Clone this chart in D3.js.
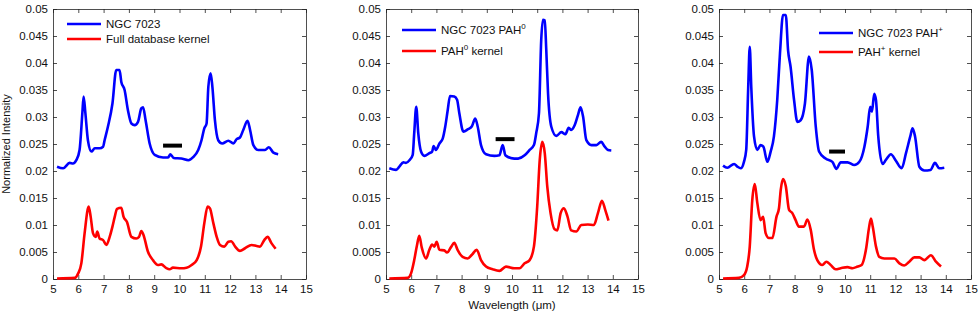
<!DOCTYPE html>
<html>
<head>
<meta charset="utf-8">
<script src="https://cdn.jsdelivr.net/npm/d3@7"></script>
<style>
  body { margin: 0; background: #fff; }
  text { font-family: "Liberation Sans", Arial, Helvetica, sans-serif; }
</style>
</head>
<body>
<div id="chart"></div>
<script>
// wavelength ticks and intensity ticks
var xTicks = [5, 6, 7, 8, 9, 10, 11, 12, 13, 14, 15];
var yTicks = [0, 0.005, 0.01, 0.015, 0.02, 0.025, 0.03, 0.035, 0.04, 0.045, 0.05];

// [wavelength (um), normalized intensity]
var ngcFull = [[5.16,0.0208],[5.4,0.0205],[5.66,0.0215],[5.79,0.0214],[5.92,0.0220],[6.05,0.0239],[6.16,0.0307],[6.21,0.0338],[6.28,0.0307],[6.38,0.0257],[6.52,0.0236],[6.65,0.0242],[6.84,0.0242],[6.98,0.0245],[7.04,0.0257],[7.17,0.0282],[7.35,0.0325],[7.5,0.0387],[7.63,0.0387],[7.7,0.0365],[7.83,0.0350],[7.96,0.0313],[8.1,0.0288],[8.23,0.0285],[8.36,0.0291],[8.49,0.0316],[8.56,0.0318],[8.66,0.0294],[8.82,0.0251],[9.02,0.0230],[9.35,0.0225],[9.55,0.0225],[9.64,0.0231],[9.77,0.0224],[10.07,0.0223],[10.35,0.0220],[10.55,0.0226],[10.74,0.0239],[10.87,0.0257],[10.98,0.0279],[11.07,0.0288],[11.14,0.0356],[11.23,0.0381],[11.3,0.0356],[11.4,0.0294],[11.53,0.0257],[11.69,0.0251],[11.93,0.0256],[12.13,0.0251],[12.26,0.0259],[12.39,0.0262],[12.52,0.0276],[12.69,0.0293],[12.79,0.0276],[12.92,0.0248],[13.11,0.0239],[13.38,0.0239],[13.53,0.0244],[13.71,0.0234],[13.9,0.0231]];
var kernelFull = [[5.16,0.0001],[5.86,0.0002],[5.99,0.001],[6.12,0.0029],[6.25,0.0085],[6.41,0.0134],[6.49,0.0115],[6.58,0.0085],[6.69,0.0078],[6.75,0.0088],[6.84,0.0075],[6.98,0.0072],[7.11,0.0063],[7.24,0.0078],[7.35,0.0097],[7.44,0.0115],[7.53,0.013],[7.7,0.0132],[7.79,0.0115],[7.92,0.0106],[8.1,0.0078],[8.29,0.0075],[8.4,0.0078],[8.49,0.0089],[8.58,0.0081],[8.75,0.0051],[8.95,0.0035],[9.15,0.0026],[9.28,0.0027],[9.48,0.002],[9.61,0.0018],[9.74,0.0021],[10.07,0.002],[10.28,0.0021],[10.48,0.0026],[10.68,0.0035],[10.85,0.006],[10.98,0.0103],[11.11,0.0134],[11.2,0.0131],[11.34,0.0103],[11.47,0.0078],[11.6,0.0063],[11.77,0.006],[11.93,0.0069],[12.04,0.007],[12.2,0.006],[12.39,0.0052],[12.59,0.0057],[12.85,0.0063],[13.05,0.0061],[13.18,0.006],[13.35,0.0072],[13.48,0.0078],[13.64,0.0066],[13.8,0.0056]];

var ngcNeutral = [[5.13,0.0205],[5.4,0.0202],[5.53,0.0208],[5.69,0.0216],[5.79,0.0215],[5.93,0.022],[6.06,0.023],[6.12,0.027],[6.2,0.0319],[6.28,0.027],[6.39,0.0236],[6.52,0.0228],[6.72,0.0233],[6.83,0.0236],[6.89,0.0246],[6.98,0.0239],[7.12,0.0251],[7.25,0.026],[7.35,0.0282],[7.45,0.0313],[7.54,0.0339],[7.71,0.0338],[7.82,0.0332],[7.91,0.0307],[8.07,0.0273],[8.24,0.0277],[8.41,0.0283],[8.54,0.0297],[8.64,0.0282],[8.77,0.0248],[8.97,0.0231],[9.3,0.0228],[9.5,0.0229],[9.63,0.0248],[9.74,0.0229],[10.09,0.0223],[10.24,0.0223],[10.5,0.0229],[10.7,0.0239],[10.87,0.0248],[10.96,0.027],[11.07,0.0307],[11.16,0.0443],[11.23,0.048],[11.3,0.0479],[11.36,0.0424],[11.43,0.0344],[11.56,0.0282],[11.76,0.0265],[11.96,0.0272],[12.12,0.0268],[12.25,0.028],[12.35,0.0276],[12.49,0.0285],[12.62,0.0304],[12.72,0.0318],[12.82,0.0301],[12.95,0.0257],[13.15,0.0248],[13.35,0.0248],[13.54,0.0254],[13.68,0.0245],[13.81,0.0239],[13.94,0.0238]];
var kernelNeutral = [[5.13,0.0001],[5.86,0.0002],[5.99,0.001],[6.12,0.0035],[6.22,0.006],[6.32,0.008],[6.42,0.0058],[6.59,0.0038],[6.72,0.0054],[6.83,0.0064],[6.92,0.006],[7.01,0.0069],[7.12,0.0054],[7.31,0.0053],[7.42,0.0049],[7.58,0.0059],[7.71,0.0067],[7.84,0.0054],[8.04,0.0041],[8.24,0.0038],[8.41,0.0045],[8.6,0.0054],[8.77,0.0035],[8.97,0.0023],[9.23,0.0018],[9.5,0.0015],[9.76,0.0023],[10.09,0.002],[10.3,0.002],[10.5,0.0029],[10.7,0.0035],[10.87,0.006],[11.0,0.0134],[11.1,0.022],[11.2,0.0254],[11.3,0.0233],[11.4,0.0171],[11.53,0.0122],[11.69,0.0092],[11.8,0.009],[11.93,0.0122],[12.06,0.0131],[12.2,0.0116],[12.35,0.009],[12.55,0.0088],[12.75,0.01],[13.01,0.0101],[13.25,0.01],[13.41,0.0122],[13.57,0.0145],[13.7,0.0128],[13.83,0.0108]];

var ngcCation = [[5.16,0.021],[5.33,0.0206],[5.6,0.0213],[5.73,0.0208],[5.86,0.0205],[5.99,0.0217],[6.08,0.0239],[6.16,0.0356],[6.22,0.043],[6.28,0.0356],[6.39,0.0264],[6.52,0.0239],[6.65,0.0248],[6.76,0.0245],[6.92,0.0217],[7.05,0.0236],[7.18,0.0264],[7.31,0.0331],[7.42,0.0418],[7.54,0.0489],[7.65,0.0489],[7.74,0.0424],[7.84,0.0393],[7.98,0.0331],[8.11,0.0291],[8.24,0.0294],[8.41,0.0325],[8.57,0.0412],[8.68,0.0387],[8.84,0.0282],[8.97,0.0236],[9.23,0.0223],[9.5,0.0217],[9.66,0.0204],[9.83,0.0216],[10.1,0.0216],[10.37,0.0211],[10.57,0.0217],[10.77,0.0245],[10.9,0.0282],[11.0,0.0319],[11.07,0.031],[11.16,0.0343],[11.23,0.0331],[11.32,0.0264],[11.49,0.0213],[11.63,0.0221],[11.82,0.0231],[12.02,0.0219],[12.25,0.0205],[12.42,0.0233],[12.59,0.0264],[12.68,0.0279],[12.78,0.0264],[12.95,0.0208],[13.15,0.0201],[13.39,0.0202],[13.57,0.0215],[13.74,0.0205],[13.94,0.0206]];
var kernelCation = [[5.16,0.0001],[5.79,0.0002],[5.99,0.0007],[6.12,0.0023],[6.22,0.006],[6.32,0.0146],[6.42,0.0176],[6.52,0.0141],[6.65,0.0109],[6.75,0.0115],[6.85,0.0085],[6.98,0.0076],[7.12,0.0076],[7.28,0.0115],[7.38,0.0131],[7.45,0.0165],[7.54,0.0185],[7.65,0.0172],[7.78,0.0128],[7.91,0.0122],[8.04,0.0109],[8.17,0.0097],[8.37,0.0097],[8.51,0.011],[8.64,0.0091],[8.77,0.0054],[8.9,0.0035],[9.1,0.0026],[9.26,0.0032],[9.43,0.0026],[9.63,0.0018],[9.83,0.002],[10.1,0.0022],[10.3,0.002],[10.5,0.0023],[10.66,0.0026],[10.83,0.0054],[10.96,0.0097],[11.03,0.0112],[11.1,0.0097],[11.23,0.006],[11.36,0.0041],[11.56,0.0038],[11.82,0.0038],[11.96,0.0038],[12.16,0.0029],[12.35,0.0025],[12.55,0.0032],[12.75,0.004],[12.95,0.004],[13.15,0.0035],[13.41,0.0044],[13.61,0.0032],[13.81,0.0023]];

// black bars: [from, to, level]
var bars = [[9.35, 10.1, 0.0247], [9.35, 10.1, 0.0259], [9.37, 10.0, 0.0236]];

// legend text: [main, superscript, after]
var legendBlue = [["NGC 7023", "", ""], ["NGC 7023 PAH", "0", ""], ["NGC 7023 PAH", "+", ""]];
var legendRed = [["Full database kernel", "", ""], ["PAH", "0", " kernel"], ["PAH", "+", " kernel"]];

var W = 980, H = 316;
var plotTop = 9, plotBottom = 279;
var panels = [
  {left: 53, right: 306, blue: ngcFull, red: kernelFull, leg: {dx: 14, y: [24, 39]}},
  {left: 386, right: 638, blue: ngcNeutral, red: kernelNeutral, leg: {dx: 16, y: [30, 51]}},
  {left: 719, right: 971, blue: ngcCation, red: kernelCation, leg: {dx: 100, y: [33, 52]}}
];

var svg = d3.select("#chart").append("svg")
  .attr("width", W)
  .attr("height", H);

var y = d3.scaleLinear().domain([0, 0.05]).range([plotBottom, plotTop]);
var tickLen = 4;

panels.forEach(function(p, i) {
  var x = d3.scaleLinear().domain([5, 15]).range([p.left, p.right]);
  var g = svg.append("g");

  // bottom and left axes with ticks pointing inward
  g.append("g")
    .attr("transform", "translate(0," + plotBottom + ")")
    .call(d3.axisBottom(x).tickValues(xTicks).tickSizeInner(-tickLen).tickSizeOuter(0).tickPadding(6).tickFormat(d3.format("d")));
  g.append("g")
    .attr("transform", "translate(" + p.left + ",0)")
    .call(d3.axisLeft(y).tickValues(yTicks).tickSizeInner(-tickLen).tickSizeOuter(0).tickPadding(5).tickFormat(function(d) { return d === 0 ? "0" : String(+d.toFixed(3)); }));
  // mirrored top and right ticks
  g.append("g")
    .attr("transform", "translate(0," + plotTop + ")")
    .call(d3.axisTop(x).tickValues(xTicks).tickSizeInner(-tickLen).tickSizeOuter(0).tickFormat(""));
  g.append("g")
    .attr("transform", "translate(" + p.right + ",0)")
    .call(d3.axisRight(y).tickValues(yTicks).tickSizeInner(-tickLen).tickSizeOuter(0).tickFormat(""));

  g.selectAll(".domain").attr("stroke", "#222").attr("stroke-width", 0.8);
  g.selectAll(".tick line").attr("stroke", "#222").attr("stroke-width", 0.8);
  g.selectAll(".tick text").attr("font-size", 11.5).attr("fill", "#111")
    .style("font-family", "'Liberation Sans', Arial, sans-serif");

  var line = d3.line()
    .x(function(d) { return x(d[0]); })
    .y(function(d) { return y(d[1]); })
    .curve(d3.curveMonotoneX);

  g.append("path").datum(p.blue)
    .attr("d", line).attr("fill", "none")
    .attr("stroke", "#0000ff").attr("stroke-width", 2.6).attr("stroke-linejoin", "round");
  g.append("path").datum(p.red)
    .attr("d", line).attr("fill", "none")
    .attr("stroke", "#ff0000").attr("stroke-width", 2.6).attr("stroke-linejoin", "round");

  // black bar
  var b = bars[i];
  g.append("line")
    .attr("x1", x(b[0])).attr("x2", x(b[1]))
    .attr("y1", y(b[2])).attr("y2", y(b[2]))
    .attr("stroke", "#000").attr("stroke-width", 4);

  // legend
  var lx = p.left + p.leg.dx;
  [[legendBlue[i], "#0000ff"], [legendRed[i], "#ff0000"]].forEach(function(e, k) {
    var ly = p.leg.y[k];
    g.append("line")
      .attr("x1", lx).attr("x2", lx + 34)
      .attr("y1", ly).attr("y2", ly)
      .attr("stroke", e[1]).attr("stroke-width", 2.6);
    var t = g.append("text")
      .attr("x", lx + 39).attr("y", ly + 4)
      .attr("font-size", 11.5).attr("fill", "#111")
      .text(e[0][0]);
    if (e[0][1]) {
      t.append("tspan").attr("dy", -5).attr("font-size", 8).text(e[0][1]);
      if (e[0][2]) t.append("tspan").attr("dy", 5).text(e[0][2]);
    }
  });
});

// axis titles
svg.append("text")
  .attr("transform", "translate(10," + ((plotTop + plotBottom) / 2) + ") rotate(-90)")
  .attr("text-anchor", "middle")
  .attr("font-size", 11).attr("fill", "#111")
  .text("Normalized Intensity");

svg.append("text")
  .attr("x", (panels[1].left + panels[1].right) / 2)
  .attr("y", 309)
  .attr("text-anchor", "middle")
  .attr("font-size", 11.5).attr("fill", "#111")
  .text("Wavelength (μm)");
</script>
</body>
</html>
